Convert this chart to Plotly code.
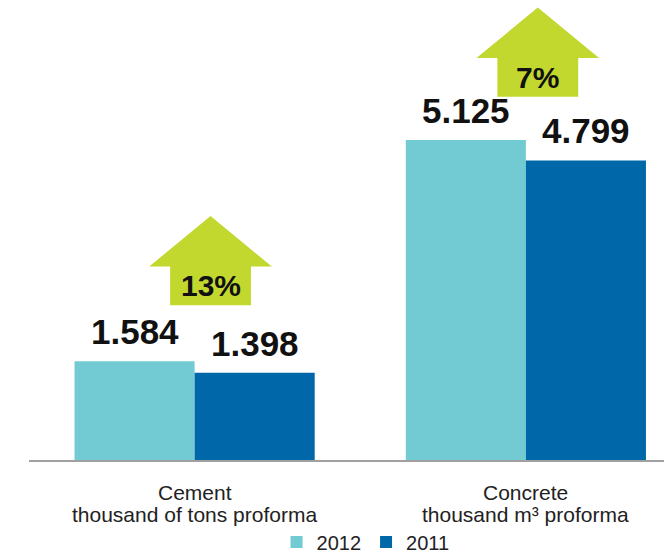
import plotly.graph_objects as go

# ---- data ----
category_names = ["Cement", "Concrete"]
category_units = ["thousand of tons proforma", "thousand m³ proforma"]
years = ["2012", "2011"]
values_2012 = [1.584, 5.125]
values_2011 = [1.398, 4.799]
growth_labels = ["13%", "7%"]

# ---- styling / layout parameters ----
colors = {"2012": "#72CBD3", "2011": "#0068A8"}
arrow_color = "#C2D82F"
arrow_base = [2.48, 5.82]      # bottom of arrow shaft (data units)
arrow_dx = [0.048, 0.036]      # horizontal offset from category centre
shaft_h, head_h = 0.62, 0.81
shaft_hw, head_hw = 0.122, 0.185
FONT = "Liberation Sans, Arial, sans-serif"

x_pos = list(range(len(category_names)))

fig = go.Figure()
for yr, vals in zip(years, [values_2012, values_2011]):
    fig.add_trace(go.Bar(
        x=x_pos, y=vals, name=yr, marker=dict(color=colors[yr], line=dict(width=0)),
        hoverinfo="skip",
    ))

# value labels
label_font = dict(family=FONT, size=35, color="#111111")
for i, (a, b) in enumerate(zip(values_2012, values_2011)):
    for v, shift in ((a, -60), (b, 60)):
        fig.add_annotation(x=x_pos[i], y=v, xshift=shift, yshift=8, yanchor="bottom",
                           text="<b>" + f"{v:.3f}" + "</b>", showarrow=False, font=label_font)

# growth arrows
for i, lab in enumerate(growth_labels):
    cx = x_pos[i] + arrow_dx[i]
    y0 = arrow_base[i]
    y1 = y0 + shaft_h
    y2 = y1 + head_h
    path = (f"M {cx-shaft_hw},{y0} L {cx+shaft_hw},{y0} L {cx+shaft_hw},{y1} "
            f"L {cx+head_hw},{y1} L {cx},{y2} L {cx-head_hw},{y1} L {cx-shaft_hw},{y1} Z")
    fig.add_shape(type="path", path=path, xref="x", yref="y",
                  fillcolor=arrow_color, line=dict(width=0), layer="below")
    fig.add_annotation(x=cx, y=(y0 + y1) / 2, text="<b>" + lab + "</b>", showarrow=False,
                       font=dict(family=FONT, size=30, color="#111111"),
                       yanchor="middle")

# category labels (two lines each)
cat_font = dict(family=FONT, size=21, color="#222222")
for i in x_pos:
    fig.add_annotation(x=i, y=0, yref="y", yanchor="middle", yshift=-32,
                       text=category_names[i], showarrow=False, font=cat_font)
    fig.add_annotation(x=i, y=0, yref="y", yanchor="middle", yshift=-54,
                       text=category_units[i], showarrow=False, font=cat_font)

fig.update_layout(
    width=664, height=553,
    margin=dict(l=29, r=0, t=0, b=93, autoexpand=False),
    paper_bgcolor="white", plot_bgcolor="white",
    barmode="group", bargap=0.275, bargroupgap=0,
    font=dict(family=FONT, color="#222222"),
    legend=dict(orientation="h", x=0.53, xanchor="center", y=-0.178, yanchor="middle",
                font=dict(size=20), itemwidth=30, traceorder="normal"),
    xaxis=dict(range=[-0.5, 1.417], tickvals=x_pos, showticklabels=False,
               showline=True, linecolor="#A0A0A0", linewidth=2, showgrid=False,
               zeroline=False, ticks="", automargin=False),
    yaxis=dict(range=[0, 7.37], visible=False, showgrid=False, zeroline=False,
               automargin=False),
)

fig.write_html("out.html")
